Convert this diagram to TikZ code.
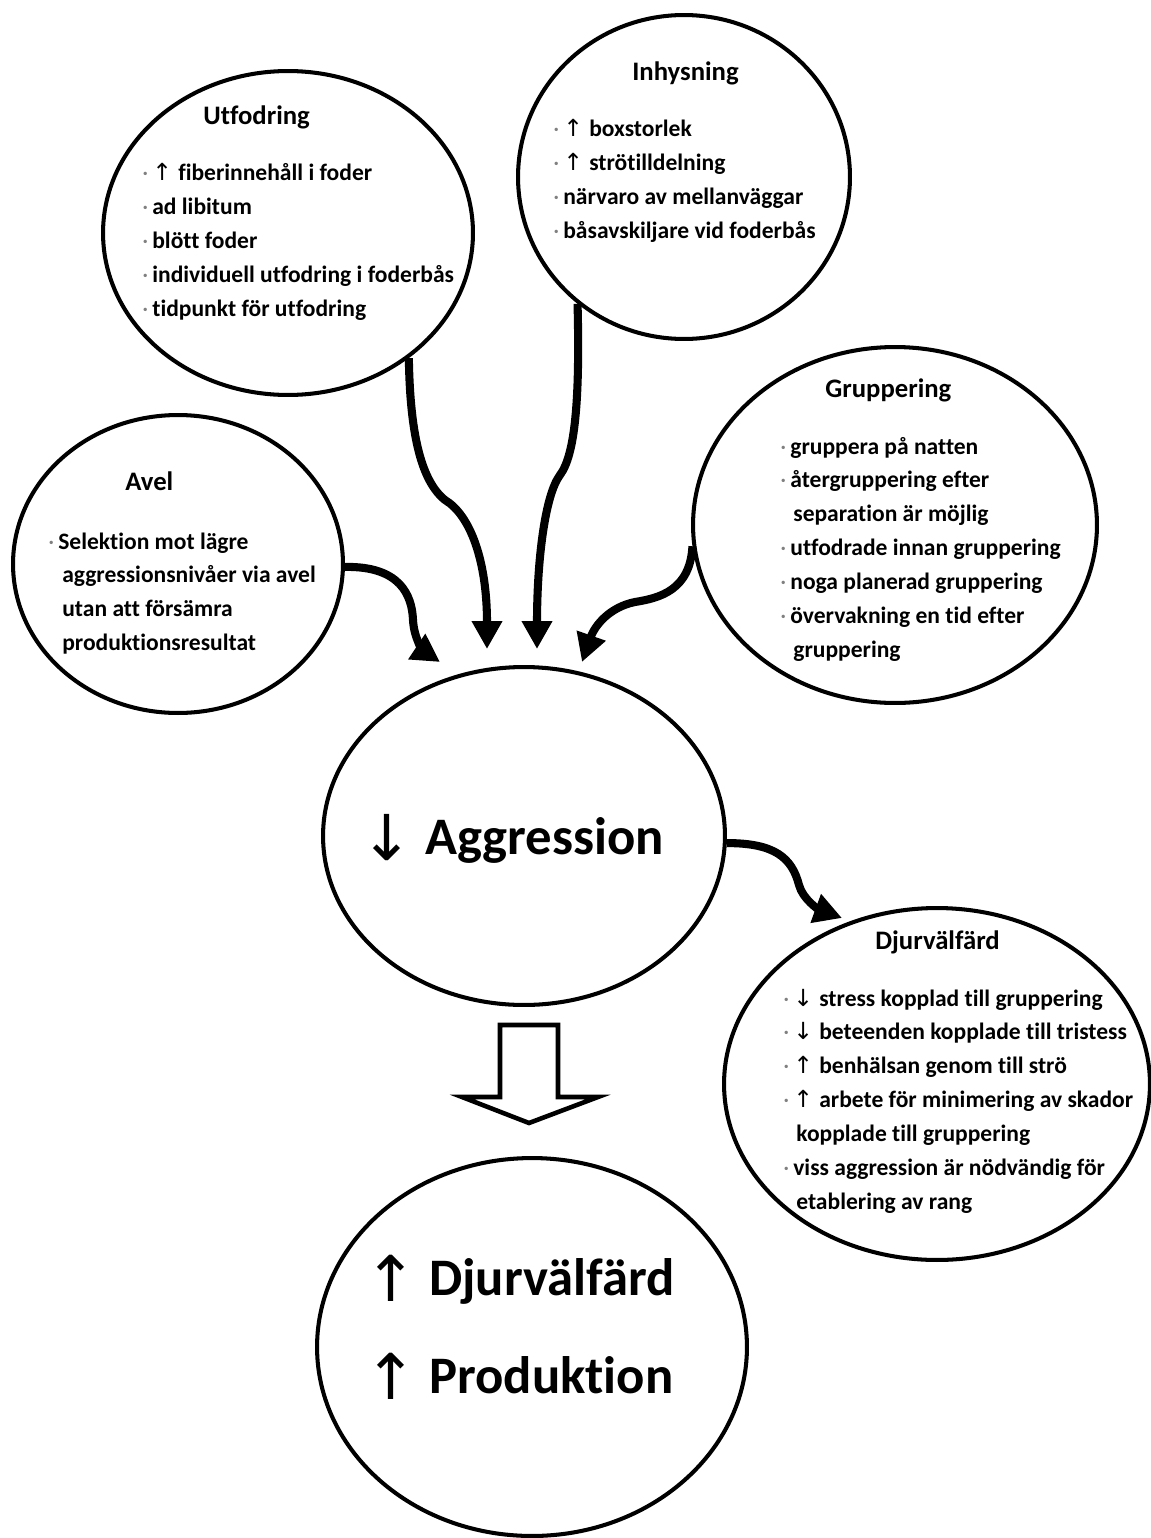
\documentclass[tikz,border=0pt]{standalone}
\usepackage{fontspec}
\setmainfont{Carlito}[Ligatures={NoCommon}]
\newfontfamily\arrowfont{DejaVu Sans}
\usetikzlibrary{arrows.meta,shapes.geometric,positioning}

% small helpers for the bullet lists
\newcommand{\dotitem}{\makebox[0.2cm][l]{\textcolor{gray}{\mdseries\textperiodcentered}}}
\newcommand{\up}{\makebox[0.52cm][l]{\arrowfont\mdseries ↑}}
\newcommand{\dn}{\makebox[0.52cm][l]{\arrowfont\mdseries ↓}}
\newcommand{\bigup}{\makebox[1.14cm][l]{\hspace*{-0.16cm}\raisebox{-0.12cm}{\arrowfont\mdseries\fontsize{36}{36}\selectfont ↑}}}
\newcommand{\bigdn}{\makebox[1.14cm][l]{\hspace*{-0.16cm}\raisebox{-0.12cm}{\arrowfont\mdseries\fontsize{36}{36}\selectfont ↓}}}
\newcommand{\head}[1]{{\fontsize{15.2}{19.3}\selectfont #1}}

\begin{document}
\begin{tikzpicture}[x=0.02cm,y=-0.02cm,>={Triangle[width=0.58cm,length=0.56cm]},line join=round]
	\tikzstyle{bubble}=[draw,ellipse,inner sep=0pt,line width=2.3pt]
	\tikzstyle{txt}=[anchor=north west,inner sep=0pt,align=left,font=\bfseries\fontsize{13.4}{19.3}\selectfont]
	\tikzstyle{big}=[anchor=base west,inner sep=0pt,font=\bfseries\fontsize{30}{35}\selectfont]
	\tikzstyle{flow}=[->,line width=4.6pt]

	\path[use as bounding box,fill=white] (0,0) rectangle (1151,1538);

	% bubbles
	\node[bubble,minimum width=7.4cm,minimum height=6.48cm] (utf) at (288,233) {};
	\node[bubble,minimum width=6.64cm,minimum height=6.48cm] (inh) at (684,177) {};
	\node[bubble,minimum width=6.6cm,minimum height=5.96cm] (avel) at (178,564) {};
	\node[bubble,minimum width=8.08cm,minimum height=7.12cm] (grp) at (895,525) {};
	\node[bubble,minimum width=8.04cm,minimum height=6.76cm] (agg) at (524,836) {};
	\node[bubble,minimum width=8.52cm,minimum height=7.04cm] (djur) at (937,1084) {};
	\node[bubble,minimum width=8.6cm,minimum height=7.56cm] (res) at (532,1347) {};

	% texts
	\node[txt] (utf-t) at (142,105) {\hspace*{1.22cm}\head{Utfodring}\\[0.46cm]
		\dotitem\up fiberinnehåll i foder\\
		\dotitem ad libitum\\
		\dotitem blött foder\\
		\dotitem individuell utfodring i foderbås\\
		\dotitem tidpunkt för utfodring};
	\node[txt] (inh-t) at (553,61) {\hspace*{1.58cm}\head{Inhysning}\\[0.46cm]
		\dotitem\up boxstorlek\\
		\dotitem\up strötilldelning\\
		\dotitem närvaro av mellanväggar\\
		\dotitem båsavskiljare vid foderbås};
	\node[txt] (avel-t) at (48,471) {\hspace*{1.54cm}\head{Avel}\\[0.5cm]
		\dotitem Selektion mot lägre\\
		\hspace*{0.28cm}aggressionsnivåer via avel\\
		\hspace*{0.28cm}utan att försämra\\
		\hspace*{0.28cm}produktionsresultat};
	\node[txt] (grp-t) at (780,378) {\hspace*{0.9cm}\head{Gruppering}\\[0.46cm]
		\dotitem gruppera på natten\\
		\dotitem återgruppering efter\\
		\hspace*{0.26cm}separation är möjlig\\
		\dotitem utfodrade innan gruppering\\
		\dotitem noga planerad gruppering\\
		\dotitem övervakning en tid efter\\
		\hspace*{0.26cm}gruppering};
	\node[txt] (djur-t) at (783,930) {\hspace*{1.84cm}\head{Djurvälfärd}\\[0.46cm]
		\dotitem\dn stress kopplad till gruppering\\
		\dotitem\dn beteenden kopplade till tristess\\
		\dotitem\up benhälsan genom till strö\\
		\dotitem\up arbete för minimering av skador\\
		\hspace*{0.26cm}kopplade till gruppering\\
		\dotitem viss aggression är nödvändig för\\
		\hspace*{0.26cm}etablering av rang};
	\node[big] (agg-t) at (368,854) {\bigdn Aggression};
	\node[big] (res-a) at (372,1295) {\bigup Djurvälfärd};
	\node[big] (res-b) at (372,1393) {\bigup Produktion};

	% arrow tips
	\coordinate (t-avel) at (440,662);
	\coordinate (t-utf) at (487,649);
	\coordinate (t-inh) at (537,649);
	\coordinate (t-grp) at (582,662);
	\coordinate (t-djur) at (842,918);

	% connectors
	\draw[flow] (avel.-1) .. controls (400,566) and (412,595) .. (413,620)
		.. controls (414,640) and (425,652) .. (t-avel);
	\draw[flow] (utf.-46) .. controls (410,430) and (420,480) .. (445,500)
		.. controls (470,515) and (487,560) .. (t-utf);
	\draw[flow] (inh.230.5) .. controls (580,400) and (575,455) .. (560,475)
		.. controls (545,495) and (537,560) .. (t-inh);
	\draw[flow] (grp.186.4) .. controls (690,590) and (660,598) .. (635,602)
		.. controls (610,607) and (595,625) .. (t-grp);
	\draw[flow] (agg.-2) .. controls (775,843) and (792,858) .. (799,885)
		.. controls (803,900) and (820,910) .. (t-djur);

	% hollow arrow
	\draw[line width=2.6pt,line join=miter] (500,1025) -- (558,1025) -- (558,1097) -- (598,1097)
		-- (529,1123) -- (462,1097) -- (500,1097) -- cycle;
\end{tikzpicture}
\end{document}
